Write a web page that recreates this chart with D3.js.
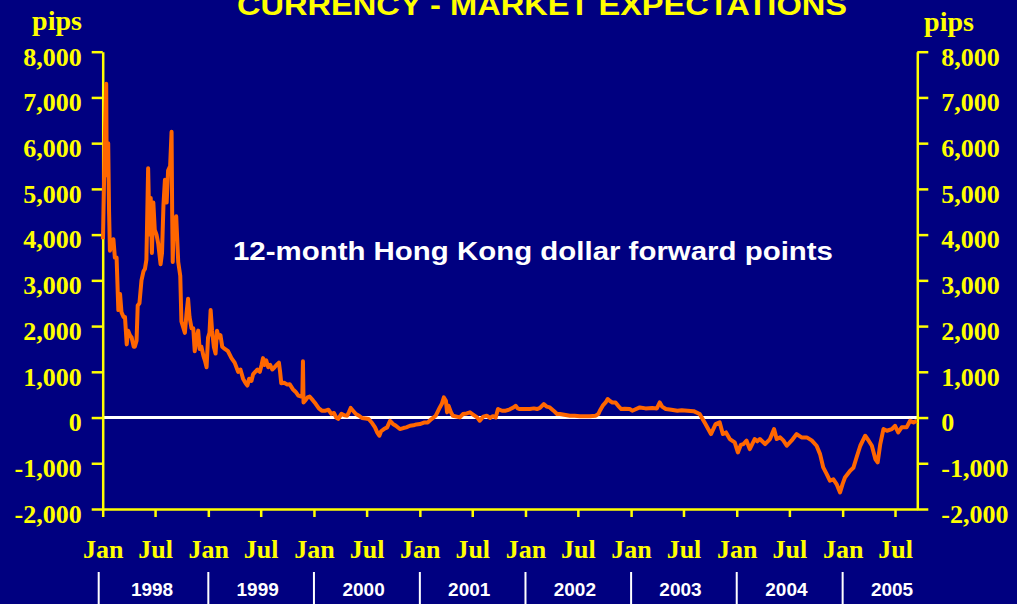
<!DOCTYPE html>
<html>
<head>
<meta charset="utf-8">
<script src="https://cdn.jsdelivr.net/npm/d3@7"></script>
<style>
  html, body { margin: 0; padding: 0; background: #000080; }
  svg { display: block; }
</style>
</head>
<body>
<svg id="chart" width="1017" height="604"></svg>
<script>
// ---- Data ----
const title = "CURRENCY - MARKET EXPECTATIONS";
const subtitle = "12-month Hong Kong dollar forward points";
const unitLabel = "pips";
const yTicks = [-2000, -1000, 0, 1000, 2000, 3000, 4000, 5000, 6000, 7000, 8000];
const monthTicks = ["1998-01-01","1998-07-01","1999-01-01","1999-07-01","2000-01-01","2000-07-01",
  "2001-01-01","2001-07-01","2002-01-01","2002-07-01","2003-01-01","2003-07-01",
  "2004-01-01","2004-07-01","2005-01-01","2005-07-01"];
const years = ["1998","1999","2000","2001","2002","2003","2004","2005"];

const dates = [
"1998-01-02","1998-01-08","1998-01-13","1998-01-15","1998-01-17","1998-01-20","1998-01-23","1998-01-26",
"1998-02-02","1998-02-07","1998-02-12","1998-02-18","1998-02-24","1998-03-02","1998-03-07","1998-03-14",
"1998-03-19","1998-03-25","1998-03-30","1998-04-05","1998-04-11","1998-04-18","1998-04-22","1998-04-28",
"1998-05-02","1998-05-08","1998-05-15","1998-05-22","1998-05-27","1998-06-01","1998-06-07","1998-06-12",
"1998-06-16","1998-06-20","1998-06-25","1998-06-30","1998-07-06","1998-07-12","1998-07-20","1998-07-25",
"1998-07-30","1998-08-04","1998-08-10","1998-08-15","1998-08-22","1998-08-27","1998-08-29","1998-08-31",
"1998-09-03","1998-09-07","1998-09-12","1998-09-19","1998-09-26","1998-09-30","1998-10-05","1998-10-12",
"1998-10-18","1998-10-23","1998-10-28","1998-11-04","1998-11-10","1998-11-15","1998-11-20","1998-11-27",
"1998-12-02","1998-12-08","1998-12-15","1998-12-20","1998-12-26","1998-12-31",
"1999-01-05","1999-01-09","1999-01-14","1999-01-20","1999-01-26","1999-01-31","1999-02-06","1999-02-12",
"1999-02-18","1999-02-27","1999-03-10","1999-03-22","1999-04-02","1999-04-14","1999-04-22","1999-05-01",
"1999-05-10","1999-05-16","1999-05-22","1999-05-30","1999-06-05","1999-06-12","1999-06-20","1999-06-28",
"1999-07-04","1999-07-09","1999-07-14","1999-07-20","1999-07-27","1999-08-03","1999-08-10","1999-08-18",
"1999-08-25","1999-09-02","1999-09-06","1999-09-10","1999-09-20","1999-10-01","1999-10-09","1999-10-20",
"1999-10-30","1999-11-08","1999-11-18","1999-11-22","1999-11-24","1999-11-26","1999-12-03","1999-12-10",
"1999-12-17","1999-12-28",
"2000-01-07","2000-01-18","2000-01-28","2000-02-10","2000-02-20","2000-03-01","2000-03-10","2000-03-18",
"2000-03-25","2000-04-05","2000-04-15","2000-04-25","2000-05-01","2000-05-07","2000-05-15","2000-05-25",
"2000-06-05","2000-06-15","2000-06-28","2000-07-08","2000-07-20","2000-07-30","2000-08-07","2000-08-14",
"2000-08-20","2000-08-30","2000-09-10","2000-09-20","2000-09-30","2000-10-10","2000-10-24","2000-11-05",
"2000-11-15","2000-11-28","2000-12-10","2000-12-20",
"2001-01-01","2001-01-15","2001-01-28","2001-02-10","2001-02-25","2001-03-11","2001-03-18","2001-03-25",
"2001-04-01","2001-04-05","2001-04-10","2001-04-18","2001-04-25","2001-05-08","2001-05-19","2001-05-30",
"2001-06-12","2001-06-23","2001-07-05","2001-07-18","2001-07-27","2001-08-08","2001-08-20","2001-08-31",
"2001-09-10","2001-09-20","2001-09-28","2001-10-04","2001-10-12","2001-10-25","2001-11-08","2001-11-20",
"2001-11-28","2001-12-05","2001-12-12","2001-12-25",
"2002-01-16","2002-01-30","2002-02-10","2002-02-20","2002-03-05","2002-03-15","2002-03-26","2002-04-08",
"2002-04-20","2002-04-30","2002-05-15","2002-06-03","2002-06-20","2002-07-08","2002-07-25","2002-08-11",
"2002-09-01","2002-09-10","2002-09-15","2002-09-25","2002-10-05","2002-10-12","2002-10-20","2002-10-28",
"2002-11-08","2002-11-18","2002-11-28","2002-12-10","2002-12-28",
"2003-01-05","2003-01-31","2003-02-20","2003-03-15","2003-03-31","2003-04-10","2003-04-18","2003-05-01",
"2003-05-20","2003-06-10","2003-06-25","2003-07-15","2003-08-05","2003-08-26","2003-09-05","2003-09-15",
"2003-10-04","2003-10-20","2003-11-03","2003-11-14","2003-11-25","2003-12-08","2003-12-25",
"2004-01-05","2004-01-15","2004-01-24","2004-02-04","2004-02-15","2004-03-03","2004-03-12","2004-03-21",
"2004-04-08","2004-04-25","2004-05-09","2004-05-18","2004-05-30","2004-06-10","2004-06-22","2004-07-09",
"2004-07-26","2004-08-12","2004-08-30","2004-09-16","2004-10-03","2004-10-15","2004-10-26","2004-11-07",
"2004-11-18","2004-11-30","2004-12-11","2004-12-23",
"2005-01-01","2005-01-09","2005-01-27","2005-02-07","2005-02-18","2005-03-03","2005-03-20","2005-04-01",
"2005-04-12","2005-04-24","2005-05-02","2005-05-11","2005-05-22","2005-06-03","2005-06-20","2005-07-01",
"2005-07-12","2005-07-24","2005-08-10","2005-08-22","2005-09-03","2005-09-14"
];
const pips = [
3900,6000,7300,5300,5600,6000,4500,3650,
3800,3900,3500,3500,2350,2700,2300,2200,
2200,1600,1900,1800,1750,1550,1550,1680,
2450,2500,3000,3200,3250,3450,5450,4000,
4800,3600,4700,4100,4000,3800,3350,3600,
4650,5200,4700,5400,5500,6250,4500,3400,
4200,4200,4400,3400,3100,2100,2000,1850,
2300,2600,2200,1950,1950,1450,1700,1900,
1500,1550,1350,1250,1100,1750,
1850,2350,1900,1550,1400,1900,1750,1800,
1550,1500,1450,1300,1200,1000,1050,850,
750,700,850,800,950,1000,1050,1000,
1150,1300,1150,1250,1100,1150,1050,1100,
1150,1200,1000,750,760,720,730,620,
560,480,460,500,1230,330,380,440,
460,380,
300,200,150,150,170,80,100,0,
-30,80,50,40,120,210,150,77,
40,-10,-20,-33,-120,-215,-330,-398,
-300,-252,-215,-70,-140,-180,-252,-230,
-215,-180,-170,-150,
-143,-110,-106,-33,40,221,300,440,
367,113,258,120,40,20,4,77,
90,113,60,4,-70,20,40,-10,
30,0,186,170,149,149,180,220,
258,200,186,186,
186,200,186,210,295,240,222,150,
77,77,60,40,40,30,30,30,
40,80,149,260,330,404,360,330,
330,250,186,190,186,
149,221,200,210,200,330,240,186,
170,149,160,149,140,77,-30,-143,
-361,-143,-106,-361,-325,-470,-544,
-763,-600,-580,-507,-690,-470,-520,-470,
-580,-470,-252,-470,-434,-500,-617,-500,
-361,-434,-434,-500,-617,-800,-1091,-1237,
-1382,-1350,-1455,-1638,
-1450,-1310,-1164,-1100,-873,-617,-398,-507,
-617,-909,-982,-580,-252,-289,-252,-180,
-325,-215,-215,-70,-106,-70
];

// ---- Drawing ----
const parse = d3.timeParse("%Y-%m-%d");
const series = dates.map((d, i) => ({ date: parse(d), value: pips[i] }));

const YELLOW = "#FFFF00";
const svg = d3.select("#chart");
svg.append("rect").attr("width", 1017).attr("height", 604).attr("fill", "#000080");

const x = d3.scaleTime()
  .domain([parse("1998-01-01"), parse("2005-09-16")])
  .range([102.7, 917.3]);
const y = d3.scaleLinear().domain([-2000, 8000]).range([509, 51.7]);

const serif = "'Liberation Serif', 'Times New Roman', serif";
const sans = "'Liberation Sans', Arial, sans-serif";
const fmt = d3.formatLocale({ decimal: ".", thousands: ",", grouping: [3], currency: ["", ""], minus: "-" }).format(",");

// Zero line
svg.append("line")
  .attr("x1", x.range()[0]).attr("x2", x.range()[1])
  .attr("y1", y(0)).attr("y2", y(0))
  .attr("stroke", "#FFFFFF").attr("stroke-width", 3);

// Left axis
const left = svg.append("g").attr("transform", `translate(${x.range()[0]},0)`)
  .call(d3.axisLeft(y).tickValues(yTicks).tickSize(11).tickSizeOuter(0)
    .tickPadding(10).tickFormat(fmt));
// Right axis
const right = svg.append("g").attr("transform", `translate(${x.range()[1]},0)`)
  .call(d3.axisRight(y).tickValues(yTicks).tickSize(11).tickSizeOuter(0)
    .tickPadding(13).tickFormat(fmt));
// Bottom axis
const bottom = svg.append("g").attr("transform", `translate(0,${y(-2000)})`)
  .call(d3.axisBottom(x).tickValues(monthTicks.map(parse)).tickSize(8).tickSizeOuter(0)
    .tickFormat(d => d.getMonth() === 0 ? "Jan" : "Jul"));

[left, right, bottom].forEach(g => {
  g.selectAll("path.domain").attr("stroke", YELLOW).attr("stroke-width", 2.5);
  g.selectAll(".tick line").attr("stroke", YELLOW).attr("stroke-width", 2.5);
  g.selectAll(".tick text")
    .attr("fill", YELLOW)
    .attr("font-family", serif)
    .attr("font-weight", "bold")
    .attr("font-size", 26);
});
left.selectAll(".tick text").attr("dy", "13.3");
right.selectAll(".tick text").attr("dy", "13.3");
bottom.selectAll(".tick text").attr("y", 49).attr("dy", 0);

// Series line
svg.append("path")
  .datum(series)
  .attr("fill", "none")
  .attr("stroke", "#FF6600")
  .attr("stroke-width", 4)
  .attr("stroke-linejoin", "round")
  .attr("d", d3.line().x(d => x(d.date)).y(d => y(d.value)));

// Unit labels
svg.append("text").attr("x", 57).attr("y", 30).attr("text-anchor", "middle")
  .attr("fill", YELLOW).attr("font-family", serif).attr("font-weight", "bold")
  .attr("font-size", 28).text(unitLabel);
svg.append("text").attr("x", 949).attr("y", 31).attr("text-anchor", "middle")
  .attr("fill", YELLOW).attr("font-family", serif).attr("font-weight", "bold")
  .attr("font-size", 28).text(unitLabel);

// Title (cut at the top edge, as in the reference)
svg.append("text").attr("x", 237).attr("y", 15)
  .attr("fill", YELLOW).attr("font-family", sans).attr("font-weight", "bold")
  .attr("font-size", 30).attr("textLength", 610).attr("lengthAdjust", "spacingAndGlyphs")
  .text(title);

// Subtitle
svg.append("text").attr("x", 233).attr("y", 260)
  .attr("fill", "#FFFFFF").attr("font-family", sans).attr("font-weight", "bold")
  .attr("font-size", 26).attr("textLength", 600).attr("lengthAdjust", "spacingAndGlyphs")
  .text(subtitle);

// Year row: separators and labels
const yearStarts = years.map(yr => parse(yr + "-01-01"));
svg.selectAll("line.sep").data(yearStarts).enter().append("line")
  .attr("class", "sep")
  .attr("x1", (d, i) => x(d) - (i === 0 ? 4 : 0)).attr("x2", (d, i) => x(d) - (i === 0 ? 4 : 0))
  .attr("y1", 572).attr("y2", 604)
  .attr("stroke", "#FFFFFF").attr("stroke-width", 2);
svg.selectAll("text.year").data(years).enter().append("text")
  .attr("class", "year")
  .attr("x", d => x(parse(d + "-07-01")) - 3)
  .attr("y", 596)
  .attr("text-anchor", "middle")
  .attr("fill", "#FFFFFF").attr("font-family", sans).attr("font-weight", "bold")
  .attr("font-size", 19)
  .text(d => d);
</script>
</body>
</html>
